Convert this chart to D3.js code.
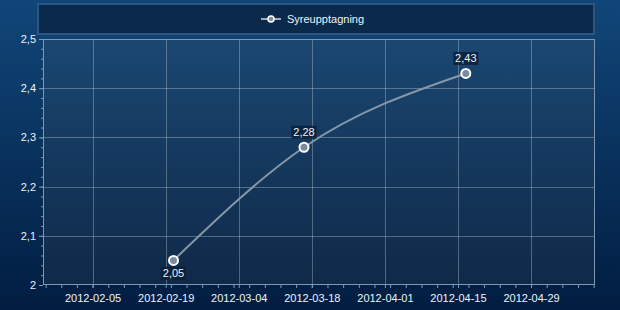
<!DOCTYPE html>
<html>
<head>
<meta charset="utf-8">
<script src="https://cdn.jsdelivr.net/npm/d3@7"></script>
<style>
    body { margin: 0; background: #001a3a; }
    text { font-family: "Liberation Sans", Arial, sans-serif; font-size: 11px; fill: #eef3f8; }
</style>
</head>
<body>
<script>
// data
const seriesName = "Syreupptagning"
const dates = ["2012-02-20T12:00", "2012-03-16T12:00", "2012-04-16T12:00"]
const values = [2.05, 2.28, 2.43]
const xDomain = ["2012-01-26T12:00", "2012-05-11T06:00"]
const xTicks = ["2012-02-05", "2012-02-19", "2012-03-04", "2012-03-18", "2012-04-01", "2012-04-15", "2012-04-29"]
const yTicks = [2, 2.1, 2.2, 2.3, 2.4, 2.5]

const width = 620
const height = 310
const margin = {top: 39, right: 25, bottom: 25, left: 43}

const parse = d3.timeParse("%Y-%m-%dT%H:%M")
const parseDay = d3.timeParse("%Y-%m-%d")
const sv = d3.formatLocale({decimal: ",", thousands: " ", grouping: [3], currency: ["", " kr"]})
const fmtTick = sv.format(".1~f")
const fmtLabel = sv.format(".2f")

const points = dates.map((d, i) => ({date: parse(d), value: values[i], index: i}))

const sx = d3.scaleTime()
    .domain(xDomain.map(parse))
    .range([margin.left, width - margin.right])

const sy = d3.scaleLinear()
    .domain([2, 2.5])
    .range([height - margin.bottom, margin.top])

const svg = d3.select("body")
    .append("svg")
    .attr("width", width)
    .attr("height", height)

const defs = svg.append("defs")
const bg = defs.append("linearGradient").attr("id", "bg").attr("x1", 0).attr("y1", 0).attr("x2", 0).attr("y2", 1)
bg.append("stop").attr("offset", "0%").attr("stop-color", "#114679")
bg.append("stop").attr("offset", "100%").attr("stop-color", "#011d41")
const plotBg = defs.append("linearGradient").attr("id", "plotBg").attr("x1", 0).attr("y1", 0).attr("x2", 0).attr("y2", 1)
plotBg.append("stop").attr("offset", "0%").attr("stop-color", "#1a4771")
plotBg.append("stop").attr("offset", "100%").attr("stop-color", "#0f2949")

svg.append("rect")
    .attr("width", width)
    .attr("height", height)
    .attr("fill", "url(#bg)")

// legend
svg.append("rect")
    .attr("x", 38)
    .attr("y", 4)
    .attr("width", 556)
    .attr("height", 30)
    .attr("fill", "#0b2a4b")
    .attr("stroke", "#2b5582")
    .attr("stroke-width", 2)

const legend = svg.append("g").attr("transform", "translate(261,19)")
legend.append("line")
    .attr("x1", 0).attr("x2", 20)
    .attr("stroke", "#a3adb8")
    .attr("stroke-width", 2)
legend.append("circle")
    .attr("cx", 10)
    .attr("r", 3)
    .attr("fill", "#7f8fa3")
    .attr("stroke", "#ffffff")
    .attr("stroke-width", 1.5)
legend.append("text")
    .attr("x", 26)
    .attr("dy", "0.35em")
    .text(seriesName)

// plot area
const x0 = sx.range()[0]
const x1 = sx.range()[1]
const y0 = sy.range()[0]
const y1 = sy.range()[1]

svg.append("rect")
    .attr("x", x0)
    .attr("y", y1)
    .attr("width", x1 - x0)
    .attr("height", y0 - y1)
    .attr("fill", "url(#plotBg)")

// grid
const grid = svg.append("g").attr("stroke", "#ffffff").attr("stroke-opacity", 0.28)
grid.selectAll(".gx")
    .data(xTicks.map(parseDay))
    .enter().append("line")
    .attr("x1", d => Math.round(sx(d)) + 0.5)
    .attr("x2", d => Math.round(sx(d)) + 0.5)
    .attr("y1", y1)
    .attr("y2", y0)
grid.selectAll(".gy")
    .data(yTicks.slice(1, -1))
    .enter().append("line")
    .attr("x1", x0)
    .attr("x2", x1)
    .attr("y1", d => Math.round(sy(d)) + 0.5)
    .attr("y2", d => Math.round(sy(d)) + 0.5)

// border
svg.append("rect")
    .attr("x", x0 + 0.5)
    .attr("y", y1 + 0.5)
    .attr("width", x1 - x0 - 1)
    .attr("height", y0 - y1 - 1)
    .attr("fill", "none")
    .attr("stroke", "#7f97b2")
    .attr("stroke-width", 1)

// axes, minor x ticks every 3 days lined up with the labelled ones
const minorXAll = d3.timeDay.range(sx.domain()[0], sx.domain()[1])
    .filter(d => Math.round((d - parseDay(xTicks[0])) / 864e5) % 3 === 0)

const xAxis = svg.append("g")
    .attr("transform", `translate(0,${Math.round(y0)})`)
    .call(d3.axisBottom(sx)
        .tickValues(minorXAll)
        .tickSize(3)
        .tickFormat(""))
xAxis.select(".domain").remove()
xAxis.selectAll("line").attr("stroke", "#7f97b2")

const xLabels = svg.append("g")
    .attr("transform", `translate(0,${Math.round(y0)})`)
    .call(d3.axisBottom(sx)
        .tickValues(xTicks.map(parseDay))
        .tickSize(3)
        .tickPadding(6)
        .tickFormat(d3.timeFormat("%Y-%m-%d")))
xLabels.select(".domain").remove()
xLabels.selectAll("line").attr("stroke", "#7f97b2")
xLabels.selectAll("text").attr("fill", "#eef3f8").style("font-size", "11px")

const yMinor = d3.range(0, 26).map(i => 2 + i * 0.02)
const yAxisMinor = svg.append("g")
    .attr("transform", `translate(${Math.round(x0)},0)`)
    .call(d3.axisLeft(sy).tickValues(yMinor).tickSize(2).tickFormat(""))
yAxisMinor.select(".domain").remove()
yAxisMinor.selectAll("line").attr("stroke", "#7f97b2")

const yAxis = svg.append("g")
    .attr("transform", `translate(${Math.round(x0)},0)`)
    .call(d3.axisLeft(sy).tickValues(yTicks).tickSize(4).tickPadding(3).tickFormat(fmtTick))
yAxis.select(".domain").remove()
yAxis.selectAll("line").attr("stroke", "#7f97b2")
yAxis.selectAll("text").attr("fill", "#eef3f8").style("font-size", "11px")

// line
const line = d3.line()
    .x(d => sx(d.date))
    .y(d => sy(d.value))
    .curve(d3.curveMonotoneX)

svg.append("path")
    .datum(points)
    .attr("d", line)
    .attr("fill", "none")
    .attr("stroke", "#8797aa")
    .attr("stroke-width", 2)

svg.append("g")
    .selectAll("circle")
    .data(points)
    .enter().append("circle")
    .attr("cx", d => sx(d.date))
    .attr("cy", d => sy(d.value))
    .attr("r", 4.5)
    .attr("fill", "#7a8aa0")
    .attr("stroke", "#ffffff")
    .attr("stroke-width", 2)

// value labels, first one goes under the point
const labels = svg.append("g")
    .selectAll("g")
    .data(points)
    .enter().append("g")
    .attr("transform", d => `translate(${sx(d.date)},${sy(d.value) + (d.index === 0 ? 13 : -15)})`)
labels.append("rect")
    .attr("x", -12.5)
    .attr("y", -6.5)
    .attr("width", 25)
    .attr("height", 13)
    .attr("fill", "#0a2038")
    .attr("fill-opacity", 0.85)
labels.append("text")
    .attr("text-anchor", "middle")
    .attr("dy", "0.35em")
    .text(d => fmtLabel(d.value))
</script>
</body>
</html>
